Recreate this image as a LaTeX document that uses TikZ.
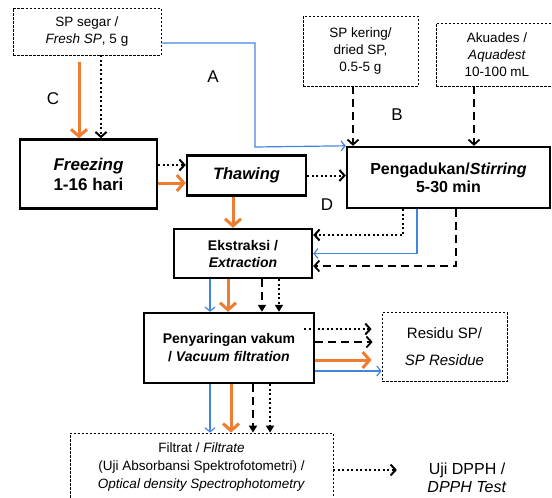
\documentclass[tikz,border=0pt]{standalone}
\usepackage{fontspec}
\setmainfont{Liberation Sans}
\usetikzlibrary{arrows.meta}
\definecolor{flowOrange}{RGB}{237,125,49}
\definecolor{flowBlue}{RGB}{66,133,224}

\begin{document}
\begin{tikzpicture}[x=1pt,y=-1pt,
    inbox/.style={draw,dash pattern=on 2.5pt off 1.5pt,line width=0.8pt,align=center,inner sep=0pt,font=\fontsize{13.5}{17}\selectfont},
    procbox/.style={draw,line width=2.4pt,align=center,inner sep=0pt},
    tag/.style={font=\fontsize{17}{17}\selectfont},
    orangeflow/.style={draw=flowOrange,line width=3pt,-{Straight Barb[length=7pt,width=16pt]}},
    blueflow/.style={draw=flowBlue,line width=1.2pt,-{Straight Barb[length=4pt,width=10pt]}},
    dotflow/.style={line width=2pt,dash pattern=on 2pt off 2.5pt,-{Straight Barb[length=5pt,width=11pt]}},
    dashflow/.style={line width=1.8pt,dash pattern=on 8pt off 5pt,-{Straight Barb[length=5pt,width=11pt]}},
    filltip/.style={-{Triangle[length=7pt,width=8pt]}}]
\useasboundingbox (0,0) rectangle (552,498);

% inputs
\node[inbox,minimum width=148pt,minimum height=47pt] (segar) at (87,31.5) {SP segar /\\\textit{Fresh SP}, 5 g};
\node[inbox,minimum width=115pt,minimum height=70pt] (kering) at (360.5,51) {SP kering/\\dried SP,\\0.5-5 g};
\node[inbox,minimum width=122pt,minimum height=63pt] (akuades) at (497,54.5) {Akuades /\\\textit{Aquadest}\\10-100 mL};

% process steps
\begin{scope}[every node/.append style={procbox}]
    \node[minimum width=137pt,minimum height=69pt,font=\bfseries\fontsize{17}{20}\selectfont] (freezing) at (88.5,174) {\textit{Freezing}\\1-16 hari};
    \node[minimum width=119pt,minimum height=40pt,font=\bfseries\fontsize{16.5}{20}\selectfont] (thawing) at (246.5,175.5) {\textit{Thawing}};
    \node[minimum width=203pt,minimum height=61pt,font=\bfseries\fontsize{16}{18}\selectfont] (stirring) at (448.5,177.5) {Pengadukan/\textit{Stirring}\\5-30 min};
    \node[minimum width=138pt,minimum height=49pt,font=\bfseries\fontsize{14}{17}\selectfont] (ekstraksi) at (243,253.5) {Ekstraksi /\\\textit{Extraction}};
    \node[minimum width=170pt,minimum height=70pt,font=\bfseries\fontsize{14}{18}\selectfont] (penyaringan) at (229,348) {Penyaringan vakum\\/ \textit{Vacuum filtration}};
\end{scope}

% outputs
\node[inbox,minimum width=125pt,minimum height=69pt,font=\fontsize{15}{27}\selectfont] (residu) at (444.5,347) {Residu SP/\\\textit{SP Residue}};
\node[inbox,minimum width=263pt,minimum height=68pt,font=\fontsize{13.5}{18}\selectfont] (filtrat) at (201.5,467) {Filtrat / \textit{Filtrate}\\(Uji Absorbansi Spektrofotometri) /\\\textit{Optical density Spectrophotometry}};
\node[align=center,font=\fontsize{16}{18}\selectfont] (dpph) at (467,478) {Uji DPPH /\\\textit{DPPH Test}};

\node[tag] (labelA) at (213,77) {A};
\node[tag] (labelB) at (397,115) {B};
\node[tag] (labelC) at (53,99) {C};
\node[tag] (labelD) at (327,205) {D};

\coordinate (bendA) at (255,147);

% route A
\draw[blueflow] ([yshift=-11.5pt]segar.east) -| (bendA) -- (stirring.north west);
% route C
\draw[orangeflow] ([xshift=-8pt,yshift=-7pt]segar.south) -- ([xshift=-8pt]segar.south |- freezing.north);
\draw[dotflow] ([xshift=14pt]segar.south) -- ([xshift=14pt]segar.south |- freezing.north);
\draw[dotflow] ([yshift=9pt]freezing.east) -- ([yshift=9pt]freezing.east -| thawing.west);
\draw[orangeflow] ([yshift=-9pt]freezing.east) -- ([yshift=-9pt]freezing.east -| thawing.west);
\draw[dotflow] (thawing.east) -- (thawing.east -| stirring.west);
\draw[orangeflow] ([xshift=-13.5pt]thawing.south) -- ([xshift=-13.5pt]thawing.south |- ekstraksi.north);
% route B
\draw[dashflow] ([xshift=-7.5pt]kering.south) -- ([xshift=-7.5pt]kering.south |- stirring.north);
\draw[dashflow] ([xshift=-23pt]akuades.south) -- ([xshift=-23pt]akuades.south |- stirring.north);
% route D
\draw[dotflow] ([xshift=-45.5pt]stirring.south) |- ([yshift=18.5pt]ekstraksi.east);
\draw[blueflow] ([xshift=-31.5pt]stirring.south) |- (ekstraksi.east);
\draw[dashflow] ([xshift=7.5pt]stirring.south) |- ([yshift=-12.5pt]ekstraksi.east);

% extraction -> filtration
\draw[blueflow] ([xshift=-33pt]ekstraksi.south) -- ([xshift=-33pt]ekstraksi.south |- penyaringan.north);
\draw[orangeflow] ([xshift=-15pt]ekstraksi.south) -- ([xshift=-15pt]ekstraksi.south |- penyaringan.north);
\draw[dashflow,filltip] ([xshift=19pt]ekstraksi.south) -- ([xshift=19pt]ekstraksi.south |- penyaringan.north);
\draw[dotflow,filltip] ([xshift=36pt]ekstraksi.south) -- ([xshift=36pt]ekstraksi.south |- penyaringan.north);

% filtration -> residue
\draw[dotflow,shorten >=10pt] ([xshift=-11pt,yshift=19pt]penyaringan.east) -- ([yshift=19pt]penyaringan.east -| residu.west);
\draw[dashflow,shorten >=9pt] ([yshift=6pt]penyaringan.east) -- ([yshift=6pt]penyaringan.east -| residu.west);
\draw[orangeflow,shorten >=10pt] ([yshift=-12pt]penyaringan.east) -- ([yshift=-12pt]penyaringan.east -| residu.west);
\draw[blueflow] ([yshift=-23pt]penyaringan.east) -- ([yshift=-23pt]penyaringan.east -| residu.west);

% filtration -> filtrate
\draw[blueflow] ([xshift=-19pt]penyaringan.south) -- ([xshift=-19pt]penyaringan.south |- filtrat.north);
\draw[orangeflow] ([xshift=2pt]penyaringan.south) -- ([xshift=2pt]penyaringan.south |- filtrat.north);
\draw[dashflow,filltip] ([xshift=24pt]penyaringan.south) -- ([xshift=24pt]penyaringan.south |- filtrat.north);
\draw[dotflow,filltip] ([xshift=41pt]penyaringan.south) -- ([xshift=41pt]penyaringan.south |- filtrat.north);

\draw[dotflow,shorten >=27pt] ([yshift=-3pt]filtrat.east) -- ([yshift=-3pt]filtrat.east -| dpph.west);
\end{tikzpicture}
\end{document}
